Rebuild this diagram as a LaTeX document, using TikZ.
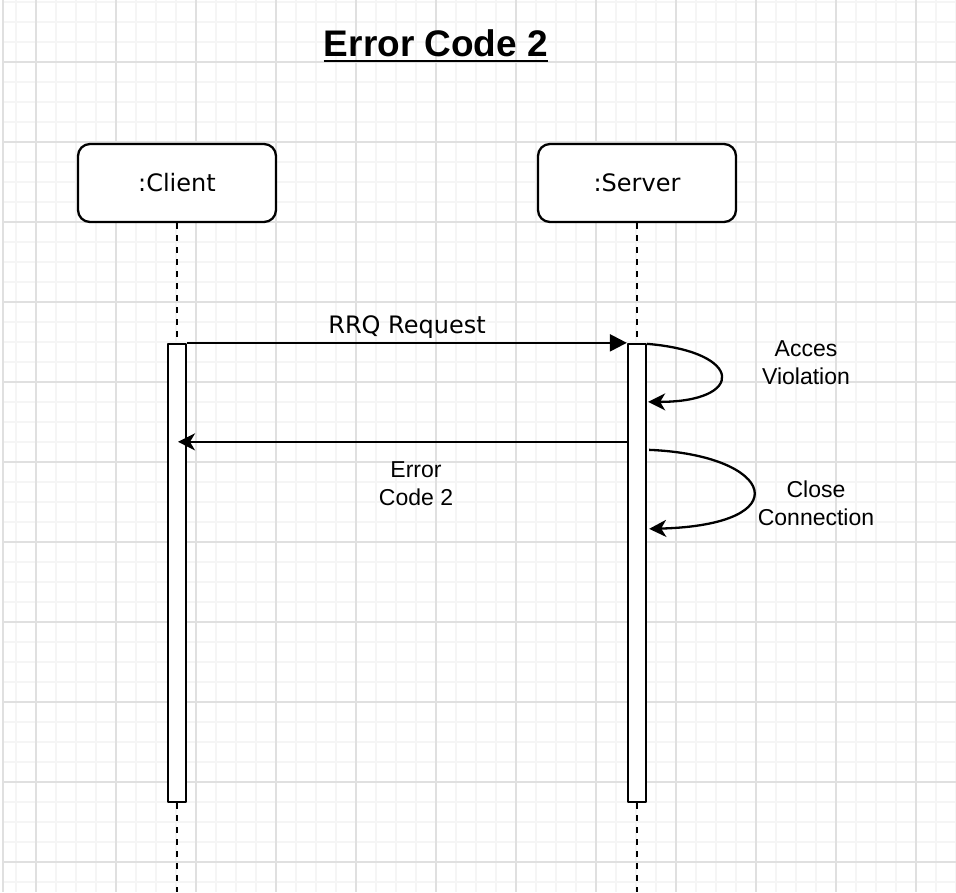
\documentclass[tikz,border=0pt]{standalone}
\usepackage{fontspec}
\setmainfont{Liberation Sans}
\newfontfamily\dejavu{DejaVu Sans}
\usetikzlibrary{arrows.meta,calc}
\definecolor{gridminor}{RGB}{245,245,245}
\definecolor{gridmajor}{RGB}{224,224,224}
\begin{document}
\begin{tikzpicture}[x=1pt,y=-1pt,line join=round,
  lifebox/.style={draw,line width=2.3pt,fill=white,rounded corners=12pt,minimum width=198pt,minimum height=78pt,inner sep=0pt,font=\dejavu\fontsize{24}{28}\selectfont},
  actbox/.style={draw,line width=2.3pt,fill=white,minimum width=18pt,minimum height=458pt,inner sep=0pt},
  lifeline/.style={line width=2.3pt,dash pattern=on 6pt off 6pt},
  msg/.style={line width=2.3pt},
  classic/.style={-{Stealth[length=17pt,width=17pt,inset=5pt]}},
  blockarrow/.style={-{Triangle[length=17pt,width=17pt]}},
  lbl/.style={font=\fontsize{23}{28}\selectfont,align=center,inner sep=0pt},
  minorline/.style={gridminor,line width=1.3pt},
  majorline/.style={gridmajor,line width=1.5pt}
]
\useasboundingbox (0,0) rectangle (956,892);
\fill[white] (0,0) rectangle (956,892);
% grid
\foreach \x in {16,36,...,956} \draw[minorline] (\x,0) -- (\x,892);
\foreach \y in {2,22,...,892} \draw[minorline] (3,\y) -- (956,\y);
\foreach \x in {36,116,...,956} \draw[majorline] (\x,0) -- (\x,892);
\foreach \y in {62,142,...,892} \draw[majorline] (3,\y) -- (956,\y);
\draw[gridmajor,line width=2pt] (3,0) -- (3,892);

% title
\node[font=\bfseries\fontsize{37}{40}\selectfont,anchor=base,inner sep=0pt] (title) at (436,56) {Error Code 2};
\draw[line width=2.3pt] ([yshift=-5pt]title.base west) -- ([yshift=-5pt]title.base east);

% participants
\node[lifebox] (client) at (177,183) {:Client};
\node[lifebox] (server) at (637,183) {:Server};

% activation boxes
\node[actbox] (cact) at (177,573) {};
\node[actbox] (sact) at (637,573) {};
\coordinate (cend) at (177,892);
\coordinate (send) at (637,892);

% lifelines
\draw[lifeline] (client.south) -- (cact.north);
\draw[lifeline] (cact.south) -- (cend);
\draw[lifeline] (server.south) -- (sact.north);
\draw[lifeline] (sact.south) -- (send);

% messages
\draw[msg,blockarrow] (cact.north east) -- (sact.north west);
\node[font=\dejavu\fontsize{24}{28}\selectfont,anchor=base,inner sep=0pt] (rrq) at (407,333) {RRQ Request};

\draw[msg,classic] ($(sact.north west)+(0,99)$) -- ($(cact.north)+(1,99)$);
\node[lbl] (err) at (416,484) {Error\\Code 2};

\draw[msg,classic] ($(sact.north east)+(0,1)$) .. controls (745,352) and (745,402) .. ($(sact.north east)+(1,59)$);
\node[lbl] (acc) at (806,363) {Acces\\Violation};

\draw[msg,classic] ($(sact.north east)+(2,107)$) .. controls (775,455) and (800,525) .. ($(sact.north east)+(2,186)$);
\node[lbl] (close) at (816,503) {Close\\Connection};
\end{tikzpicture}
\end{document}
